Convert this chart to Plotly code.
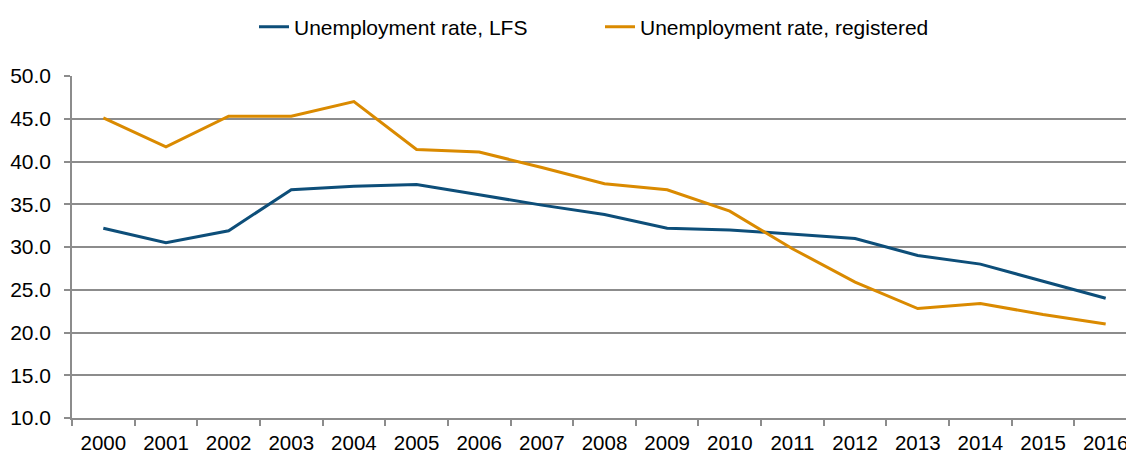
import plotly.graph_objects as go

years = [str(y) for y in range(2000, 2017)]
lfs = [32.2, 30.5, 31.9, 36.7, 37.1, 37.3, 36.1, 34.9, 33.8, 32.2, 32.0, 31.5, 31.0, 29.0, 28.0, 26.0, 24.0]
registered = [45.1, 41.7, 45.3, 45.3, 47.0, 41.4, 41.1, 39.3, 37.4, 36.7, 34.2, 29.8, 25.9, 22.8, 23.4, 22.1, 21.0]
y_ticks = [10, 15, 20, 25, 30, 35, 40, 45, 50]

BLUE = "#0D4E79"
ORANGE = "#DA8A00"
GRID = "#8C8C8C"
FONT = "Liberation Sans, Arial, sans-serif"
FS = 21

W, H = 1126, 453

fig = go.Figure()
fig.add_trace(go.Scatter(x=years, y=lfs, mode="lines", name="Unemployment rate, LFS",
                         line=dict(color=BLUE, width=3)))
fig.add_trace(go.Scatter(x=years, y=registered, mode="lines", name="Unemployment rate, registered",
                         line=dict(color=ORANGE, width=3)))

fig.update_layout(
    width=W, height=H,
    margin=dict(l=72, r=0, t=76, b=35, autoexpand=False),
    paper_bgcolor="white", plot_bgcolor="white",
    font=dict(family=FONT, size=FS, color="#000000"),
    legend=dict(orientation="h", xref="container", yref="container",
                x=254 / W, xanchor="left", y=1 - 27 / H, yanchor="middle",
                font=dict(size=FS), entrywidth=301, entrywidthmode="pixels",
                bgcolor="rgba(0,0,0,0)"),
    showlegend=True,
)
fig.update_xaxes(
    type="category", range=[-0.5, 16.5 - 11 / 62.65], automargin=False,
    showgrid=False, showline=True, linecolor=GRID, linewidth=1.5,
    ticks="outside", ticklen=6, tickcolor=GRID, tickwidth=1.5,
    tickson="boundaries", tickfont=dict(size=20.5, color="#000000"),
    ticklabelstandoff=6,
)
fig.update_yaxes(
    range=[10, 50], tickvals=y_ticks, ticktext=[f"{v:.1f}" for v in y_ticks],
    automargin=False,
    showgrid=True, gridcolor=GRID, gridwidth=1.5,
    showline=True, linecolor=GRID, linewidth=1.5,
    ticks="outside", ticklen=6, tickcolor=GRID, tickwidth=1.5,
    tickfont=dict(size=FS, color="#000000"), ticklabelstandoff=9,
    zeroline=False,
)

fig.write_html(
    "out.html",
    config={"displayModeBar": False},
    post_script="document.body.style.margin='0px';document.body.style.overflow='hidden';",
)
